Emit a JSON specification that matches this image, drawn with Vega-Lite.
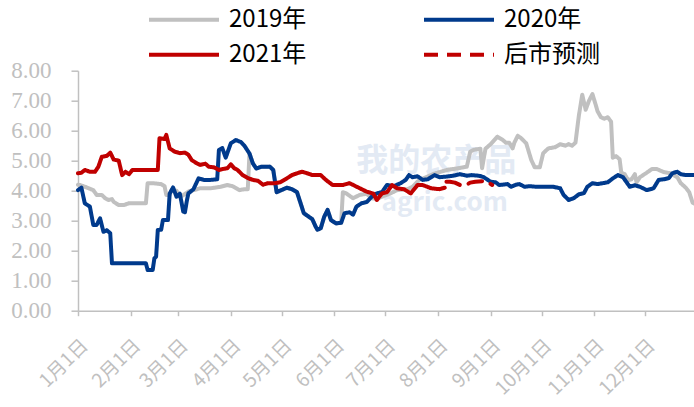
{
  "$schema": "https://vega.github.io/schema/vega-lite/v6.json",
  "width": 618,
  "height": 240,
  "autosize": "none",
  "padding": {"left": 78, "top": 70.7, "right": 0, "bottom": 96.3},
  "background": "white",
  "config": {"view": {"stroke": null}},
  "datasets": {
    "mark": [
      {"date": "2021/07/31", "value": 5.0, "label": "我的农产品", "size": 32},
      {"date": "2021/08/05", "value": 3.6, "label": "agric.com", "size": 26}
    ],
    "prices": [
      {"date": "2021/01/01", "series": "2019年", "value": 4.2},
      {"date": "2021/01/02", "series": "2019年", "value": 4.19},
      {"date": "2021/01/06", "series": "2019年", "value": 4.11},
      {"date": "2021/01/10", "series": "2019年", "value": 4.02},
      {"date": "2021/01/12", "series": "2019年", "value": 3.86},
      {"date": "2021/01/15", "series": "2019年", "value": 3.86},
      {"date": "2021/01/17", "series": "2019年", "value": 3.75},
      {"date": "2021/01/19", "series": "2019年", "value": 3.69},
      {"date": "2021/01/21", "series": "2019年", "value": 3.72},
      {"date": "2021/01/22", "series": "2019年", "value": 3.63},
      {"date": "2021/01/25", "series": "2019年", "value": 3.52},
      {"date": "2021/01/28", "series": "2019年", "value": 3.52},
      {"date": "2021/01/31", "series": "2019年", "value": 3.58},
      {"date": "2021/02/10", "series": "2019年", "value": 3.58},
      {"date": "2021/02/11", "series": "2019年", "value": 4.25},
      {"date": "2021/02/14", "series": "2019年", "value": 4.25},
      {"date": "2021/02/19", "series": "2019年", "value": 4.22},
      {"date": "2021/02/21", "series": "2019年", "value": 4.15},
      {"date": "2021/02/22", "series": "2019年", "value": 3.86},
      {"date": "2021/02/24", "series": "2019年", "value": 3.86},
      {"date": "2021/02/25", "series": "2019年", "value": 4.02},
      {"date": "2021/02/28", "series": "2019年", "value": 4.0},
      {"date": "2021/03/02", "series": "2019年", "value": 3.8},
      {"date": "2021/03/04", "series": "2019年", "value": 3.85},
      {"date": "2021/03/07", "series": "2019年", "value": 3.97},
      {"date": "2021/03/10", "series": "2019年", "value": 4.02},
      {"date": "2021/03/14", "series": "2019年", "value": 4.08},
      {"date": "2021/03/20", "series": "2019年", "value": 4.08},
      {"date": "2021/03/26", "series": "2019年", "value": 4.13},
      {"date": "2021/03/30", "series": "2019年", "value": 4.19},
      {"date": "2021/04/02", "series": "2019年", "value": 4.15},
      {"date": "2021/04/06", "series": "2019年", "value": 4.02},
      {"date": "2021/04/09", "series": "2019年", "value": 4.05},
      {"date": "2021/04/11", "series": "2019年", "value": 4.05},
      {"date": "2021/04/12", "series": "2019年", "value": 5.24},
      {"date": "2021/04/14", "series": "2019年", "value": 4.91},
      {"date": "2021/04/16", "series": "2019年", "value": 4.74},
      {"date": "2021/04/19", "series": "2019年", "value": 4.8},
      {"date": "2021/04/24", "series": "2019年", "value": 4.8},
      {"date": "2021/04/26", "series": "2019年", "value": 4.69},
      {"date": "2021/04/28", "series": "2019年", "value": 3.95},
      {"date": "2021/04/30", "series": "2019年", "value": 4.0},
      {"date": "2021/05/04", "series": "2019年", "value": 4.1},
      {"date": "2021/05/07", "series": "2019年", "value": 4.05},
      {"date": "2021/05/10", "series": "2019年", "value": 3.95},
      {"date": "2021/05/12", "series": "2019年", "value": 3.6},
      {"date": "2021/05/14", "series": "2019年", "value": 3.25},
      {"date": "2021/05/17", "series": "2019年", "value": 3.13},
      {"date": "2021/05/19", "series": "2019年", "value": 3.05},
      {"date": "2021/05/21", "series": "2019年", "value": 2.8},
      {"date": "2021/05/22", "series": "2019年", "value": 2.7},
      {"date": "2021/05/24", "series": "2019年", "value": 2.75},
      {"date": "2021/05/26", "series": "2019年", "value": 3.13},
      {"date": "2021/05/28", "series": "2019年", "value": 3.36},
      {"date": "2021/05/30", "series": "2019年", "value": 3.02},
      {"date": "2021/06/02", "series": "2019年", "value": 2.91},
      {"date": "2021/06/05", "series": "2019年", "value": 2.93},
      {"date": "2021/06/06", "series": "2019年", "value": 3.95},
      {"date": "2021/06/08", "series": "2019年", "value": 3.91},
      {"date": "2021/06/12", "series": "2019年", "value": 3.75},
      {"date": "2021/06/16", "series": "2019年", "value": 3.86},
      {"date": "2021/06/20", "series": "2019年", "value": 3.9},
      {"date": "2021/06/23", "series": "2019年", "value": 3.75},
      {"date": "2021/06/26", "series": "2019年", "value": 3.72},
      {"date": "2021/06/29", "series": "2019年", "value": 3.8},
      {"date": "2021/07/04", "series": "2019年", "value": 3.91},
      {"date": "2021/07/08", "series": "2019年", "value": 4.02},
      {"date": "2021/07/14", "series": "2019年", "value": 4.05},
      {"date": "2021/07/17", "series": "2019年", "value": 4.13},
      {"date": "2021/07/21", "series": "2019年", "value": 4.36},
      {"date": "2021/07/25", "series": "2019年", "value": 4.45},
      {"date": "2021/07/29", "series": "2019年", "value": 4.55},
      {"date": "2021/08/02", "series": "2019年", "value": 4.62},
      {"date": "2021/08/07", "series": "2019年", "value": 4.7},
      {"date": "2021/08/12", "series": "2019年", "value": 4.74},
      {"date": "2021/08/18", "series": "2019年", "value": 4.8},
      {"date": "2021/08/20", "series": "2019年", "value": 5.3},
      {"date": "2021/08/22", "series": "2019年", "value": 5.36},
      {"date": "2021/08/26", "series": "2019年", "value": 5.4},
      {"date": "2021/08/27", "series": "2019年", "value": 4.75},
      {"date": "2021/08/29", "series": "2019年", "value": 5.4},
      {"date": "2021/09/01", "series": "2019年", "value": 5.55},
      {"date": "2021/09/05", "series": "2019年", "value": 5.8},
      {"date": "2021/09/08", "series": "2019年", "value": 5.7},
      {"date": "2021/09/10", "series": "2019年", "value": 5.6},
      {"date": "2021/09/12", "series": "2019年", "value": 5.6},
      {"date": "2021/09/14", "series": "2019年", "value": 5.41},
      {"date": "2021/09/15", "series": "2019年", "value": 5.6},
      {"date": "2021/09/17", "series": "2019年", "value": 5.83},
      {"date": "2021/09/19", "series": "2019年", "value": 5.75},
      {"date": "2021/09/22", "series": "2019年", "value": 5.58},
      {"date": "2021/09/25", "series": "2019年", "value": 5.02},
      {"date": "2021/09/27", "series": "2019年", "value": 4.78},
      {"date": "2021/09/30", "series": "2019年", "value": 4.78},
      {"date": "2021/10/02", "series": "2019年", "value": 5.25},
      {"date": "2021/10/05", "series": "2019年", "value": 5.41},
      {"date": "2021/10/09", "series": "2019年", "value": 5.45},
      {"date": "2021/10/12", "series": "2019年", "value": 5.55},
      {"date": "2021/10/15", "series": "2019年", "value": 5.5},
      {"date": "2021/10/17", "series": "2019年", "value": 5.55},
      {"date": "2021/10/19", "series": "2019年", "value": 5.5},
      {"date": "2021/10/21", "series": "2019年", "value": 5.6},
      {"date": "2021/10/23", "series": "2019年", "value": 6.5},
      {"date": "2021/10/25", "series": "2019年", "value": 7.2},
      {"date": "2021/10/27", "series": "2019年", "value": 6.7},
      {"date": "2021/10/29", "series": "2019年", "value": 7.0},
      {"date": "2021/10/31", "series": "2019年", "value": 7.22},
      {"date": "2021/11/02", "series": "2019年", "value": 6.85},
      {"date": "2021/11/03", "series": "2019年", "value": 6.65},
      {"date": "2021/11/05", "series": "2019年", "value": 6.45},
      {"date": "2021/11/07", "series": "2019年", "value": 6.4},
      {"date": "2021/11/09", "series": "2019年", "value": 6.45},
      {"date": "2021/11/11", "series": "2019年", "value": 6.3},
      {"date": "2021/11/12", "series": "2019年", "value": 5.1},
      {"date": "2021/11/14", "series": "2019年", "value": 5.15},
      {"date": "2021/11/16", "series": "2019年", "value": 5.05},
      {"date": "2021/11/17", "series": "2019年", "value": 4.6},
      {"date": "2021/11/19", "series": "2019年", "value": 4.55},
      {"date": "2021/11/21", "series": "2019年", "value": 4.35},
      {"date": "2021/11/23", "series": "2019年", "value": 4.38},
      {"date": "2021/11/25", "series": "2019年", "value": 4.55},
      {"date": "2021/11/26", "series": "2019年", "value": 4.28},
      {"date": "2021/11/28", "series": "2019年", "value": 4.45},
      {"date": "2021/12/02", "series": "2019年", "value": 4.6},
      {"date": "2021/12/05", "series": "2019年", "value": 4.72},
      {"date": "2021/12/08", "series": "2019年", "value": 4.72},
      {"date": "2021/12/12", "series": "2019年", "value": 4.62},
      {"date": "2021/12/16", "series": "2019年", "value": 4.58},
      {"date": "2021/12/20", "series": "2019年", "value": 4.45},
      {"date": "2021/12/22", "series": "2019年", "value": 4.25},
      {"date": "2021/12/25", "series": "2019年", "value": 4.1},
      {"date": "2021/12/27", "series": "2019年", "value": 3.95},
      {"date": "2021/12/29", "series": "2019年", "value": 3.6},
      {"date": "2021/12/31", "series": "2019年", "value": 3.55},

      {"date": "2021/01/01", "series": "2020年", "value": 4.02},
      {"date": "2021/01/03", "series": "2020年", "value": 4.1},
      {"date": "2021/01/05", "series": "2020年", "value": 3.58},
      {"date": "2021/01/08", "series": "2020年", "value": 3.47},
      {"date": "2021/01/10", "series": "2020年", "value": 2.86},
      {"date": "2021/01/12", "series": "2020年", "value": 2.86},
      {"date": "2021/01/14", "series": "2020年", "value": 3.08},
      {"date": "2021/01/16", "series": "2020年", "value": 2.63},
      {"date": "2021/01/18", "series": "2020年", "value": 2.68},
      {"date": "2021/01/20", "series": "2020年", "value": 2.58},
      {"date": "2021/01/21", "series": "2020年", "value": 1.58},
      {"date": "2021/02/10", "series": "2020年", "value": 1.58},
      {"date": "2021/02/11", "series": "2020年", "value": 1.36},
      {"date": "2021/02/14", "series": "2020年", "value": 1.36},
      {"date": "2021/02/15", "series": "2020年", "value": 1.75},
      {"date": "2021/02/16", "series": "2020年", "value": 1.8},
      {"date": "2021/02/17", "series": "2020年", "value": 2.69},
      {"date": "2021/02/19", "series": "2020年", "value": 2.7},
      {"date": "2021/02/20", "series": "2020年", "value": 3.02},
      {"date": "2021/02/23", "series": "2020年", "value": 3.02},
      {"date": "2021/02/24", "series": "2020年", "value": 3.9},
      {"date": "2021/02/26", "series": "2020年", "value": 4.11},
      {"date": "2021/02/28", "series": "2020年", "value": 3.8},
      {"date": "2021/03/02", "series": "2020年", "value": 3.9},
      {"date": "2021/03/04", "series": "2020年", "value": 3.3},
      {"date": "2021/03/05", "series": "2020年", "value": 3.28},
      {"date": "2021/03/06", "series": "2020年", "value": 3.63},
      {"date": "2021/03/07", "series": "2020年", "value": 3.91},
      {"date": "2021/03/10", "series": "2020年", "value": 4.05},
      {"date": "2021/03/13", "series": "2020年", "value": 4.41},
      {"date": "2021/03/16", "series": "2020年", "value": 4.36},
      {"date": "2021/03/20", "series": "2020年", "value": 4.36},
      {"date": "2021/03/24", "series": "2020年", "value": 4.38},
      {"date": "2021/03/25", "series": "2020年", "value": 5.36},
      {"date": "2021/03/27", "series": "2020年", "value": 5.42},
      {"date": "2021/03/29", "series": "2020年", "value": 5.1},
      {"date": "2021/04/01", "series": "2020年", "value": 5.58},
      {"date": "2021/04/04", "series": "2020年", "value": 5.69},
      {"date": "2021/04/07", "series": "2020年", "value": 5.62},
      {"date": "2021/04/09", "series": "2020年", "value": 5.5},
      {"date": "2021/04/12", "series": "2020年", "value": 5.24},
      {"date": "2021/04/14", "series": "2020年", "value": 4.91},
      {"date": "2021/04/16", "series": "2020年", "value": 4.74},
      {"date": "2021/04/19", "series": "2020年", "value": 4.8},
      {"date": "2021/04/24", "series": "2020年", "value": 4.8},
      {"date": "2021/04/26", "series": "2020年", "value": 4.69},
      {"date": "2021/04/28", "series": "2020年", "value": 3.95},
      {"date": "2021/04/30", "series": "2020年", "value": 4.0},
      {"date": "2021/05/04", "series": "2020年", "value": 4.1},
      {"date": "2021/05/07", "series": "2020年", "value": 4.05},
      {"date": "2021/05/10", "series": "2020年", "value": 3.95},
      {"date": "2021/05/12", "series": "2020年", "value": 3.6},
      {"date": "2021/05/14", "series": "2020年", "value": 3.25},
      {"date": "2021/05/17", "series": "2020年", "value": 3.13},
      {"date": "2021/05/19", "series": "2020年", "value": 3.05},
      {"date": "2021/05/21", "series": "2020年", "value": 2.8},
      {"date": "2021/05/22", "series": "2020年", "value": 2.7},
      {"date": "2021/05/24", "series": "2020年", "value": 2.75},
      {"date": "2021/05/26", "series": "2020年", "value": 3.13},
      {"date": "2021/05/28", "series": "2020年", "value": 3.36},
      {"date": "2021/05/30", "series": "2020年", "value": 3.02},
      {"date": "2021/06/02", "series": "2020年", "value": 2.91},
      {"date": "2021/06/05", "series": "2020年", "value": 2.93},
      {"date": "2021/06/07", "series": "2020年", "value": 3.25},
      {"date": "2021/06/10", "series": "2020年", "value": 3.28},
      {"date": "2021/06/12", "series": "2020年", "value": 3.2},
      {"date": "2021/06/14", "series": "2020年", "value": 3.47},
      {"date": "2021/06/17", "series": "2020年", "value": 3.58},
      {"date": "2021/06/20", "series": "2020年", "value": 3.62},
      {"date": "2021/06/23", "series": "2020年", "value": 3.8},
      {"date": "2021/06/26", "series": "2020年", "value": 3.91},
      {"date": "2021/06/29", "series": "2020年", "value": 3.95},
      {"date": "2021/07/02", "series": "2020年", "value": 4.19},
      {"date": "2021/07/06", "series": "2020年", "value": 4.15},
      {"date": "2021/07/10", "series": "2020年", "value": 4.25},
      {"date": "2021/07/13", "series": "2020年", "value": 4.36},
      {"date": "2021/07/15", "series": "2020年", "value": 4.52},
      {"date": "2021/07/17", "series": "2020年", "value": 4.45},
      {"date": "2021/07/20", "series": "2020年", "value": 4.48},
      {"date": "2021/07/23", "series": "2020年", "value": 4.36},
      {"date": "2021/07/26", "series": "2020年", "value": 4.38},
      {"date": "2021/07/30", "series": "2020年", "value": 4.52},
      {"date": "2021/08/02", "series": "2020年", "value": 4.45},
      {"date": "2021/08/06", "series": "2020年", "value": 4.47},
      {"date": "2021/08/10", "series": "2020年", "value": 4.5},
      {"date": "2021/08/14", "series": "2020年", "value": 4.55},
      {"date": "2021/08/18", "series": "2020年", "value": 4.5},
      {"date": "2021/08/21", "series": "2020年", "value": 4.52},
      {"date": "2021/08/25", "series": "2020年", "value": 4.5},
      {"date": "2021/08/28", "series": "2020年", "value": 4.45},
      {"date": "2021/09/01", "series": "2020年", "value": 4.3},
      {"date": "2021/09/04", "series": "2020年", "value": 4.28},
      {"date": "2021/09/06", "series": "2020年", "value": 4.19},
      {"date": "2021/09/08", "series": "2020年", "value": 4.2},
      {"date": "2021/09/11", "series": "2020年", "value": 4.22},
      {"date": "2021/09/13", "series": "2020年", "value": 4.13},
      {"date": "2021/09/16", "series": "2020年", "value": 4.2},
      {"date": "2021/09/18", "series": "2020年", "value": 4.22},
      {"date": "2021/09/21", "series": "2020年", "value": 4.13},
      {"date": "2021/09/24", "series": "2020年", "value": 4.15},
      {"date": "2021/09/28", "series": "2020年", "value": 4.13},
      {"date": "2021/10/02", "series": "2020年", "value": 4.13},
      {"date": "2021/10/08", "series": "2020年", "value": 4.13},
      {"date": "2021/10/12", "series": "2020年", "value": 4.08},
      {"date": "2021/10/14", "series": "2020年", "value": 3.86},
      {"date": "2021/10/17", "series": "2020年", "value": 3.69},
      {"date": "2021/10/20", "series": "2020年", "value": 3.75},
      {"date": "2021/10/23", "series": "2020年", "value": 3.88},
      {"date": "2021/10/26", "series": "2020年", "value": 3.92},
      {"date": "2021/10/28", "series": "2020年", "value": 4.13},
      {"date": "2021/10/31", "series": "2020年", "value": 4.25},
      {"date": "2021/11/03", "series": "2020年", "value": 4.22},
      {"date": "2021/11/06", "series": "2020年", "value": 4.25},
      {"date": "2021/11/09", "series": "2020年", "value": 4.28},
      {"date": "2021/11/12", "series": "2020年", "value": 4.41},
      {"date": "2021/11/15", "series": "2020年", "value": 4.52},
      {"date": "2021/11/18", "series": "2020年", "value": 4.45},
      {"date": "2021/11/22", "series": "2020年", "value": 4.13},
      {"date": "2021/11/25", "series": "2020年", "value": 4.18},
      {"date": "2021/11/28", "series": "2020年", "value": 4.13},
      {"date": "2021/12/02", "series": "2020年", "value": 4.02},
      {"date": "2021/12/06", "series": "2020年", "value": 4.08},
      {"date": "2021/12/09", "series": "2020年", "value": 4.36},
      {"date": "2021/12/12", "series": "2020年", "value": 4.38},
      {"date": "2021/12/15", "series": "2020年", "value": 4.42},
      {"date": "2021/12/17", "series": "2020年", "value": 4.58},
      {"date": "2021/12/20", "series": "2020年", "value": 4.63},
      {"date": "2021/12/22", "series": "2020年", "value": 4.55},
      {"date": "2021/12/25", "series": "2020年", "value": 4.52},
      {"date": "2021/12/29", "series": "2020年", "value": 4.52},
      {"date": "2021/12/31", "series": "2020年", "value": 4.52},

      {"date": "2021/01/01", "series": "2021年", "value": 4.58},
      {"date": "2021/01/03", "series": "2021年", "value": 4.6},
      {"date": "2021/01/05", "series": "2021年", "value": 4.69},
      {"date": "2021/01/08", "series": "2021年", "value": 4.63},
      {"date": "2021/01/11", "series": "2021年", "value": 4.63},
      {"date": "2021/01/13", "series": "2021年", "value": 4.8},
      {"date": "2021/01/15", "series": "2021年", "value": 5.13},
      {"date": "2021/01/18", "series": "2021年", "value": 5.16},
      {"date": "2021/01/20", "series": "2021年", "value": 5.27},
      {"date": "2021/01/22", "series": "2021年", "value": 5.04},
      {"date": "2021/01/25", "series": "2021年", "value": 5.0},
      {"date": "2021/01/27", "series": "2021年", "value": 4.52},
      {"date": "2021/01/29", "series": "2021年", "value": 4.63},
      {"date": "2021/01/31", "series": "2021年", "value": 4.55},
      {"date": "2021/02/02", "series": "2021年", "value": 4.69},
      {"date": "2021/02/17", "series": "2021年", "value": 4.69},
      {"date": "2021/02/18", "series": "2021年", "value": 5.75},
      {"date": "2021/02/21", "series": "2021年", "value": 5.72},
      {"date": "2021/02/22", "series": "2021年", "value": 5.86},
      {"date": "2021/02/24", "series": "2021年", "value": 5.41},
      {"date": "2021/02/27", "series": "2021年", "value": 5.3},
      {"date": "2021/03/02", "series": "2021年", "value": 5.25},
      {"date": "2021/03/05", "series": "2021年", "value": 5.27},
      {"date": "2021/03/07", "series": "2021年", "value": 5.2},
      {"date": "2021/03/09", "series": "2021年", "value": 5.02},
      {"date": "2021/03/12", "series": "2021年", "value": 4.91},
      {"date": "2021/03/14", "series": "2021年", "value": 4.86},
      {"date": "2021/03/17", "series": "2021年", "value": 4.9},
      {"date": "2021/03/19", "series": "2021年", "value": 4.8},
      {"date": "2021/03/22", "series": "2021年", "value": 4.78},
      {"date": "2021/03/25", "series": "2021年", "value": 4.69},
      {"date": "2021/03/27", "series": "2021年", "value": 4.72},
      {"date": "2021/03/30", "series": "2021年", "value": 4.75},
      {"date": "2021/04/01", "series": "2021年", "value": 4.88},
      {"date": "2021/04/03", "series": "2021年", "value": 4.75},
      {"date": "2021/04/05", "series": "2021年", "value": 4.69},
      {"date": "2021/04/08", "series": "2021年", "value": 4.52},
      {"date": "2021/04/11", "series": "2021年", "value": 4.42},
      {"date": "2021/04/14", "series": "2021年", "value": 4.36},
      {"date": "2021/04/17", "series": "2021年", "value": 4.33},
      {"date": "2021/04/20", "series": "2021年", "value": 4.2},
      {"date": "2021/04/23", "series": "2021年", "value": 4.25},
      {"date": "2021/04/27", "series": "2021年", "value": 4.25},
      {"date": "2021/04/30", "series": "2021年", "value": 4.28},
      {"date": "2021/05/04", "series": "2021年", "value": 4.41},
      {"date": "2021/05/07", "series": "2021年", "value": 4.52},
      {"date": "2021/05/10", "series": "2021年", "value": 4.58},
      {"date": "2021/05/13", "series": "2021年", "value": 4.63},
      {"date": "2021/05/16", "series": "2021年", "value": 4.58},
      {"date": "2021/05/19", "series": "2021年", "value": 4.52},
      {"date": "2021/05/22", "series": "2021年", "value": 4.52},
      {"date": "2021/05/24", "series": "2021年", "value": 4.52},
      {"date": "2021/05/27", "series": "2021年", "value": 4.36},
      {"date": "2021/05/31", "series": "2021年", "value": 4.19},
      {"date": "2021/06/06", "series": "2021年", "value": 4.19},
      {"date": "2021/06/10", "series": "2021年", "value": 4.25},
      {"date": "2021/06/16", "series": "2021年", "value": 4.08},
      {"date": "2021/06/20", "series": "2021年", "value": 3.97},
      {"date": "2021/06/24", "series": "2021年", "value": 3.9},
      {"date": "2021/06/26", "series": "2021年", "value": 3.69},
      {"date": "2021/06/29", "series": "2021年", "value": 3.91},
      {"date": "2021/07/02", "series": "2021年", "value": 3.95},
      {"date": "2021/07/05", "series": "2021年", "value": 4.19},
      {"date": "2021/07/08", "series": "2021年", "value": 4.08},
      {"date": "2021/07/12", "series": "2021年", "value": 4.05},
      {"date": "2021/07/16", "series": "2021年", "value": 3.91},
      {"date": "2021/07/20", "series": "2021年", "value": 4.19},
      {"date": "2021/07/23", "series": "2021年", "value": 4.19},
      {"date": "2021/07/28", "series": "2021年", "value": 4.08},
      {"date": "2021/08/02", "series": "2021年", "value": 4.05},
      {"date": "2021/08/05", "series": "2021年", "value": 4.1},

      {"date": "2021/08/06", "series": "后市预测", "value": 4.3},
      {"date": "2021/08/08", "series": "后市预测", "value": 4.3},
      {"date": "2021/08/11", "series": "后市预测", "value": 4.27},
      {"date": "2021/08/14", "series": "后市预测", "value": 4.19},
      {"date": "2021/08/18", "series": "后市预测", "value": 4.2},
      {"date": "2021/08/20", "series": "后市预测", "value": 4.27},
      {"date": "2021/08/23", "series": "后市预测", "value": 4.3},
      {"date": "2021/08/28", "series": "后市预测", "value": 4.32},
      {"date": "2021/08/30", "series": "后市预测", "value": 4.3},
      {"date": "2021/09/02", "series": "后市预测", "value": 4.19}
    ]
  },
  "encoding": {
    "x": {
      "field": "date",
      "type": "temporal",
      "scale": {"domain": [{"year": 2021, "month": 1, "date": 1}, {"year": 2021, "month": 12, "date": 31}]},
      "axis": {
        "title": null,
        "grid": false,
        "values": [
          {"year": 2021, "month": 1, "date": 1}, {"year": 2021, "month": 2, "date": 1},
          {"year": 2021, "month": 3, "date": 1}, {"year": 2021, "month": 4, "date": 1},
          {"year": 2021, "month": 5, "date": 1}, {"year": 2021, "month": 6, "date": 1},
          {"year": 2021, "month": 7, "date": 1}, {"year": 2021, "month": 8, "date": 1},
          {"year": 2021, "month": 9, "date": 1}, {"year": 2021, "month": 10, "date": 1},
          {"year": 2021, "month": 11, "date": 1}, {"year": 2021, "month": 12, "date": 1}
        ],
        "format": "%-m月%-d日",
        "labelAngle": -45,
        "labelAlign": "right",
        "labelBaseline": "top",
        "labelPadding": 20,
        "labelFont": "Noto Sans CJK SC",
        "labelFontSize": 19,
        "labelColor": "#c0c0c0",
        "labelOverlap": false,
        "labelBound": false,
        "labelFlush": false,
        "tickColor": "#c0c0c0",
        "tickSize": 5,
        "tickWidth": 1.5,
        "domainColor": "#c0c0c0",
        "domainWidth": 1.5
      }
    },
    "y": {
      "field": "value",
      "type": "quantitative",
      "scale": {"domain": [0, 8], "nice": false},
      "axis": {
        "title": null,
        "grid": false,
        "values": [0, 1, 2, 3, 4, 5, 6, 7, 8],
        "format": ".2f",
        "labelFont": "Liberation Serif",
        "labelFontSize": 23,
        "labelColor": "#c0c0c0",
        "labelPadding": 20,
        "tickColor": "#c0c0c0",
        "tickSize": 7,
        "tickWidth": 1.5,
        "domainColor": "#c0c0c0",
        "domainWidth": 1.5
      }
    }
  },
  "layer": [
    {
      "data": {"name": "mark"},
      "mark": {"type": "text", "font": "Noto Sans CJK SC", "color": "#e3eaf4", "fontWeight": "bold"},
      "encoding": {
        "text": {"field": "label"},
        "size": {"field": "size", "type": "quantitative", "scale": null}
      }
    },
    {
      "data": {"name": "prices"},
      "mark": {"type": "line", "strokeWidth": 4, "strokeCap": "round", "strokeJoin": "round"},
      "encoding": {
        "color": {
          "field": "series",
          "type": "nominal",
          "scale": {"domain": ["2019年", "2020年", "2021年", "后市预测"], "range": ["#c0c0c0", "#003a8c", "#c00000", "#c00000"]},
          "legend": {
            "title": null, "orient": "none", "direction": "horizontal", "legendX": 69, "legendY": -63,
            "columns": 2, "columnPadding": 115, "rowPadding": 11,
            "symbolType": "stroke", "symbolSize": 4900, "symbolStrokeWidth": 4, "clipHeight": 24,
            "labelFont": "Noto Sans CJK SC", "labelFontSize": 24, "labelColor": "#000000", "labelOffset": 8, "labelLimit": 0
          }
        },
        "strokeDash": {
          "field": "series",
          "type": "nominal",
          "scale": {"domain": ["2019年", "2020年", "2021年", "后市预测"], "range": [[1, 0], [1, 0], [1, 0], [14, 9]]},
          "legend": {
            "title": null, "orient": "none", "direction": "horizontal", "legendX": 69, "legendY": -63,
            "columns": 2, "columnPadding": 115, "rowPadding": 11,
            "symbolType": "stroke", "symbolSize": 4900, "symbolStrokeWidth": 4, "clipHeight": 24,
            "labelFont": "Noto Sans CJK SC", "labelFontSize": 24, "labelColor": "#000000", "labelOffset": 8, "labelLimit": 0
          }
        }
      }
    }
  ]
}
